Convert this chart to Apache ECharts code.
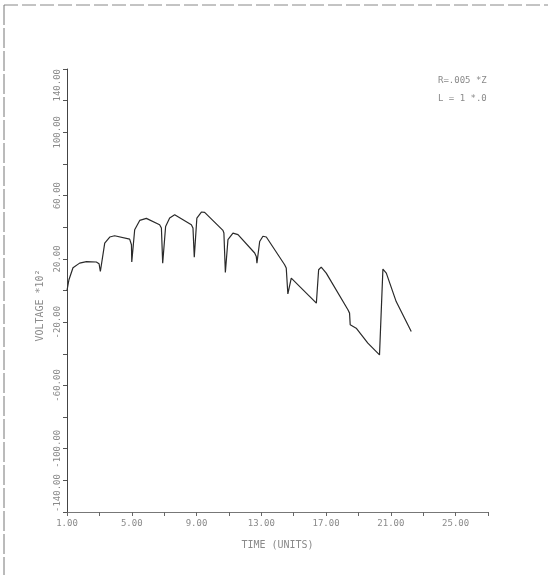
<!DOCTYPE html>
<html>
<head>
<meta charset="utf-8">
<script src="https://cdn.jsdelivr.net/npm/echarts@6/dist/echarts.min.js"></script>
<style>html,body{margin:0;padding:0;background:#fff}#c{width:548px;height:575px}</style>
</head>
<body>
<div id="c"></div>
<script>
// Data
const timeValues = [1.00,1.12,1.37,1.78,2.20,2.81,2.98,3.06,3.33,3.64,3.94,4.87,4.98,5.00,5.18,5.49,5.90,6.72,6.83,6.91,7.09,7.34,7.65,8.68,8.78,8.86,9.02,9.30,9.50,10.63,10.69,10.78,10.94,11.25,11.56,12.59,12.69,12.73,12.90,13.10,13.31,14.44,14.54,14.64,14.85,14.95,16.40,16.49,16.54,16.70,17.01,18.35,18.45,18.49,18.86,19.58,20.30,20.51,20.72,21.33,22.26];
const voltageValues = [0,6.8,14.4,17.3,18.2,18.0,16.9,12.0,30.0,33.8,34.6,32.5,28.9,18.0,38.4,44.3,45.6,41.6,39.5,17.3,40.5,45.8,47.9,41.6,39.5,21.1,45.8,49.6,49.4,38.0,36.3,11.4,32.1,36.3,35.3,23.7,21.5,17.3,31.0,34.3,33.8,16.3,14.2,-2.2,7.8,8.5,-8.0,-9.1,13.1,14.8,11.0,-12.2,-14.3,-21.7,-23.8,-33.3,-40.7,13.5,11.0,-7.0,-25.9];
const xTickValues = [1,3,5,7,9,11,13,15,17,19,21,23,25,27];
const xLabelValues = [1,5,9,13,17,21,25];
const yLabelValues = [-140,-100,-60,-20,20,60,100,140];
const xTitle = 'TIME (UNITS)';
const yTitle = 'VOLTAGE *10²';
const noteLines = ['R=.005 *Z', 'L = 1 *.0'];

const chart = echarts.init(document.getElementById('c'), null, {renderer:'canvas'});
const txt = '#8a8a8a';
chart.setOption({
  animation:false,
  backgroundColor:'#fff',
  grid:{left:67, top:69, width:421, height:443},
  xAxis:{
    type:'value', min:1, max:27,
    axisLine:{show:true, onZero:false, lineStyle:{color:'#777', width:1}},
    axisTick:{show:true, length:4, customValues:xTickValues, lineStyle:{color:'#666'}},
    axisLabel:{customValues:xLabelValues, formatter:v=>v.toFixed(2), color:txt, fontSize:9, margin:7, fontFamily:'DejaVu Sans Mono'},
    splitLine:{show:false},
    name:xTitle, nameLocation:'middle', nameGap:28,
    nameTextStyle:{color:txt, fontSize:10, fontFamily:'DejaVu Sans Mono'}
  },
  yAxis:{
    type:'value', min:-140, max:140, interval:20,
    axisLine:{show:true, onZero:false, lineStyle:{color:'#444', width:1}},
    axisTick:{show:true, length:4, lineStyle:{color:'#555'}},
    axisLabel:{rotate:90, customValues:yLabelValues, formatter:v=>v.toFixed(2), color:txt, fontSize:9, margin:5, fontFamily:'DejaVu Sans Mono', alignMinLabel:'left', alignMaxLabel:'right'},
    splitLine:{show:false},
    name:yTitle, nameLocation:'middle', nameGap:22,
    nameTextStyle:{color:txt, fontSize:10, fontFamily:'DejaVu Sans Mono', padding:[0,30,0,0]}
  },
  series:[{
    type:'line',
    data:timeValues.map((t,i)=>[t, voltageValues[i]]),
    showSymbol:false,
    lineStyle:{color:'#2a2a2a', width:1.2},
    smooth:false
  }],
  graphic:[
    {type:'line', shape:{x1:4,y1:5,x2:548,y2:5}, style:{stroke:'#888', lineWidth:1, lineDash:[14,4]}},
    {type:'line', shape:{x1:4,y1:5,x2:4,y2:575}, style:{stroke:'#777', lineWidth:1, lineDash:[20,3]}},
    {type:'text', left:438, top:76, style:{text:noteLines[0], fill:txt, font:'9px "DejaVu Sans Mono"'}},
    {type:'text', left:438, top:94, style:{text:noteLines[1], fill:txt, font:'9px "DejaVu Sans Mono"'}}
  ]
});
</script>
</body>
</html>
